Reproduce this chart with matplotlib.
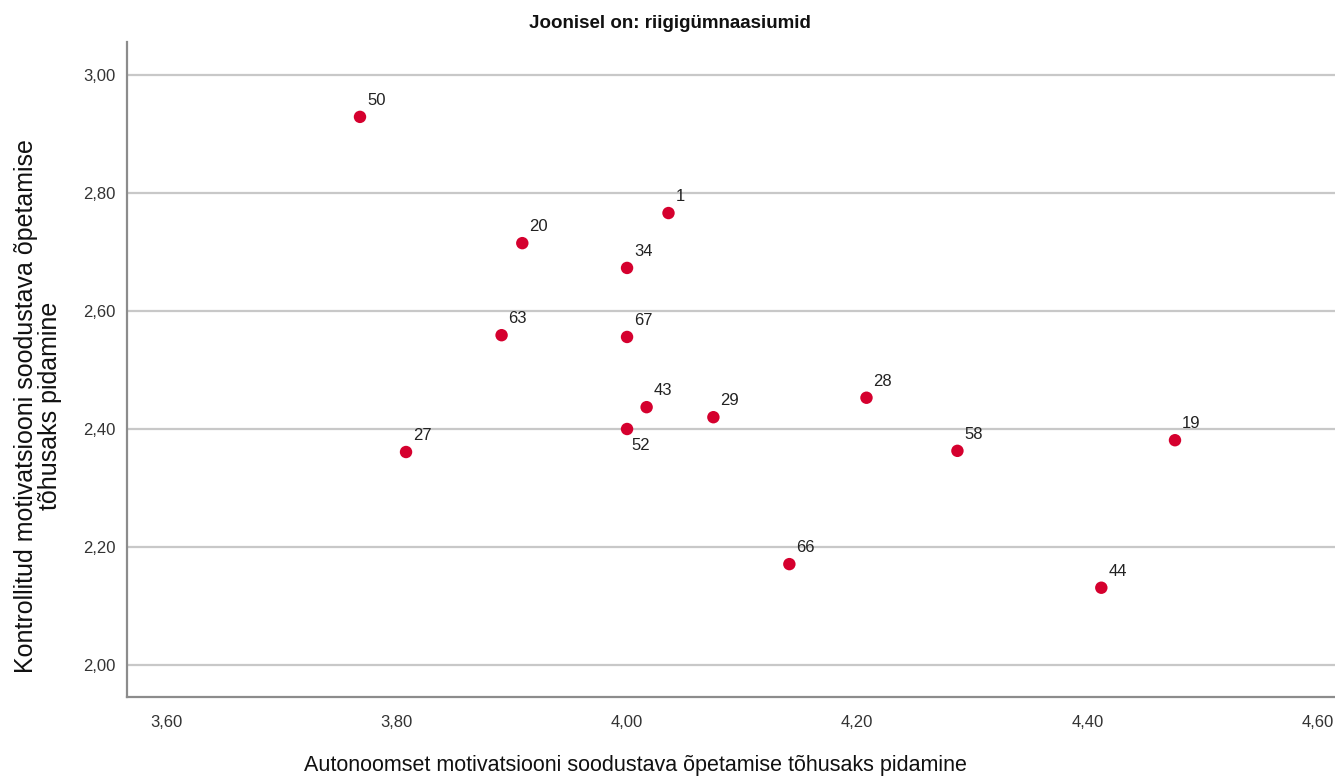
import matplotlib.pyplot as plt

plt.rcParams['font.family'] = ['Liberation Sans', 'DejaVu Sans']

# data
ids = ['50', '1', '20', '34', '63', '67', '43', '29', '52', '27',
       '28', '58', '19', '66', '44']
autonoomne = [3.768, 4.036, 3.909, 4.000, 3.891, 4.000, 4.017, 4.075, 4.000,
              3.808, 4.208, 4.287, 4.476, 4.141, 4.412]
kontrollitud = [2.929, 2.766, 2.715, 2.673, 2.559, 2.556, 2.437, 2.420, 2.400,
                2.361, 2.453, 2.363, 2.381, 2.171, 2.131]

x_ticks = [3.60, 3.80, 4.00, 4.20, 4.40, 4.60]
y_ticks = [2.00, 2.20, 2.40, 2.60, 2.80, 3.00]

DOT = '#d5002e'
GRID = '#c8c8c8'
SPINE = '#8c8c8c'

fig = plt.figure(figsize=(13.35, 7.78), dpi=100)
fig.patch.set_facecolor('white')
ax = fig.add_axes([127 / 1335, 1 - 697 / 778, 1 - 127 / 1335, (697 - 42) / 778])

ax.set_xlim(3.5656, 4.615)
ax.set_ylim(1.9458, 3.0559)

ax.scatter(autonoomne, kontrollitud, s=80, color=DOT, edgecolor='none', zorder=3)

for lab, xv, yv in zip(ids, autonoomne, kontrollitud):
    if lab == '52':
        ax.annotate(lab, (xv, yv), xytext=(3, -12), textcoords='offset points',
                    ha='left', va='center', fontsize=12, color='#222222')
    else:
        ax.annotate(lab, (xv, yv), xytext=(5, 12), textcoords='offset points',
                    ha='left', va='center', fontsize=12, color='#222222')

ax.set_xticks(x_ticks)
ax.set_yticks(y_ticks)
ax.set_xticklabels([f'{v:.2f}'.replace('.', ',') for v in x_ticks])
ax.set_yticklabels([f'{v:.2f}'.replace('.', ',') for v in y_ticks])
ax.tick_params(length=0, labelsize=12, colors='#333333', pad=8)
ax.tick_params(axis='x', pad=13)

ax.yaxis.grid(True, color=GRID, lw=1.6)
ax.set_axisbelow(True)
for side in ['top', 'right']:
    ax.spines[side].set_visible(False)
for side in ['left', 'bottom']:
    ax.spines[side].set_color(SPINE)
    ax.spines[side].set_linewidth(1.6)

fig.text(670 / 1335, 1 - 24 / 778, 'Joonisel on: riigigümnaasiumid',
         ha='center', va='center', fontsize=13.5, fontweight='bold', color='#111111')
fig.text(635 / 1335, 1 - 765 / 778,
         'Autonoomset motivatsiooni soodustava õpetamise tõhusaks pidamine',
         ha='center', va='center', fontsize=15.5, color='#111111')
fig.text(38 / 1335, 1 - 406 / 778,
         'Kontrollitud motivatsiooni soodustava õpetamise\ntõhusaks pidamine',
         ha='center', va='center', rotation=90, fontsize=18, color='#111111',
         linespacing=1.0, multialignment='center')

fig.savefig('out.png', dpi=100, facecolor='white')
